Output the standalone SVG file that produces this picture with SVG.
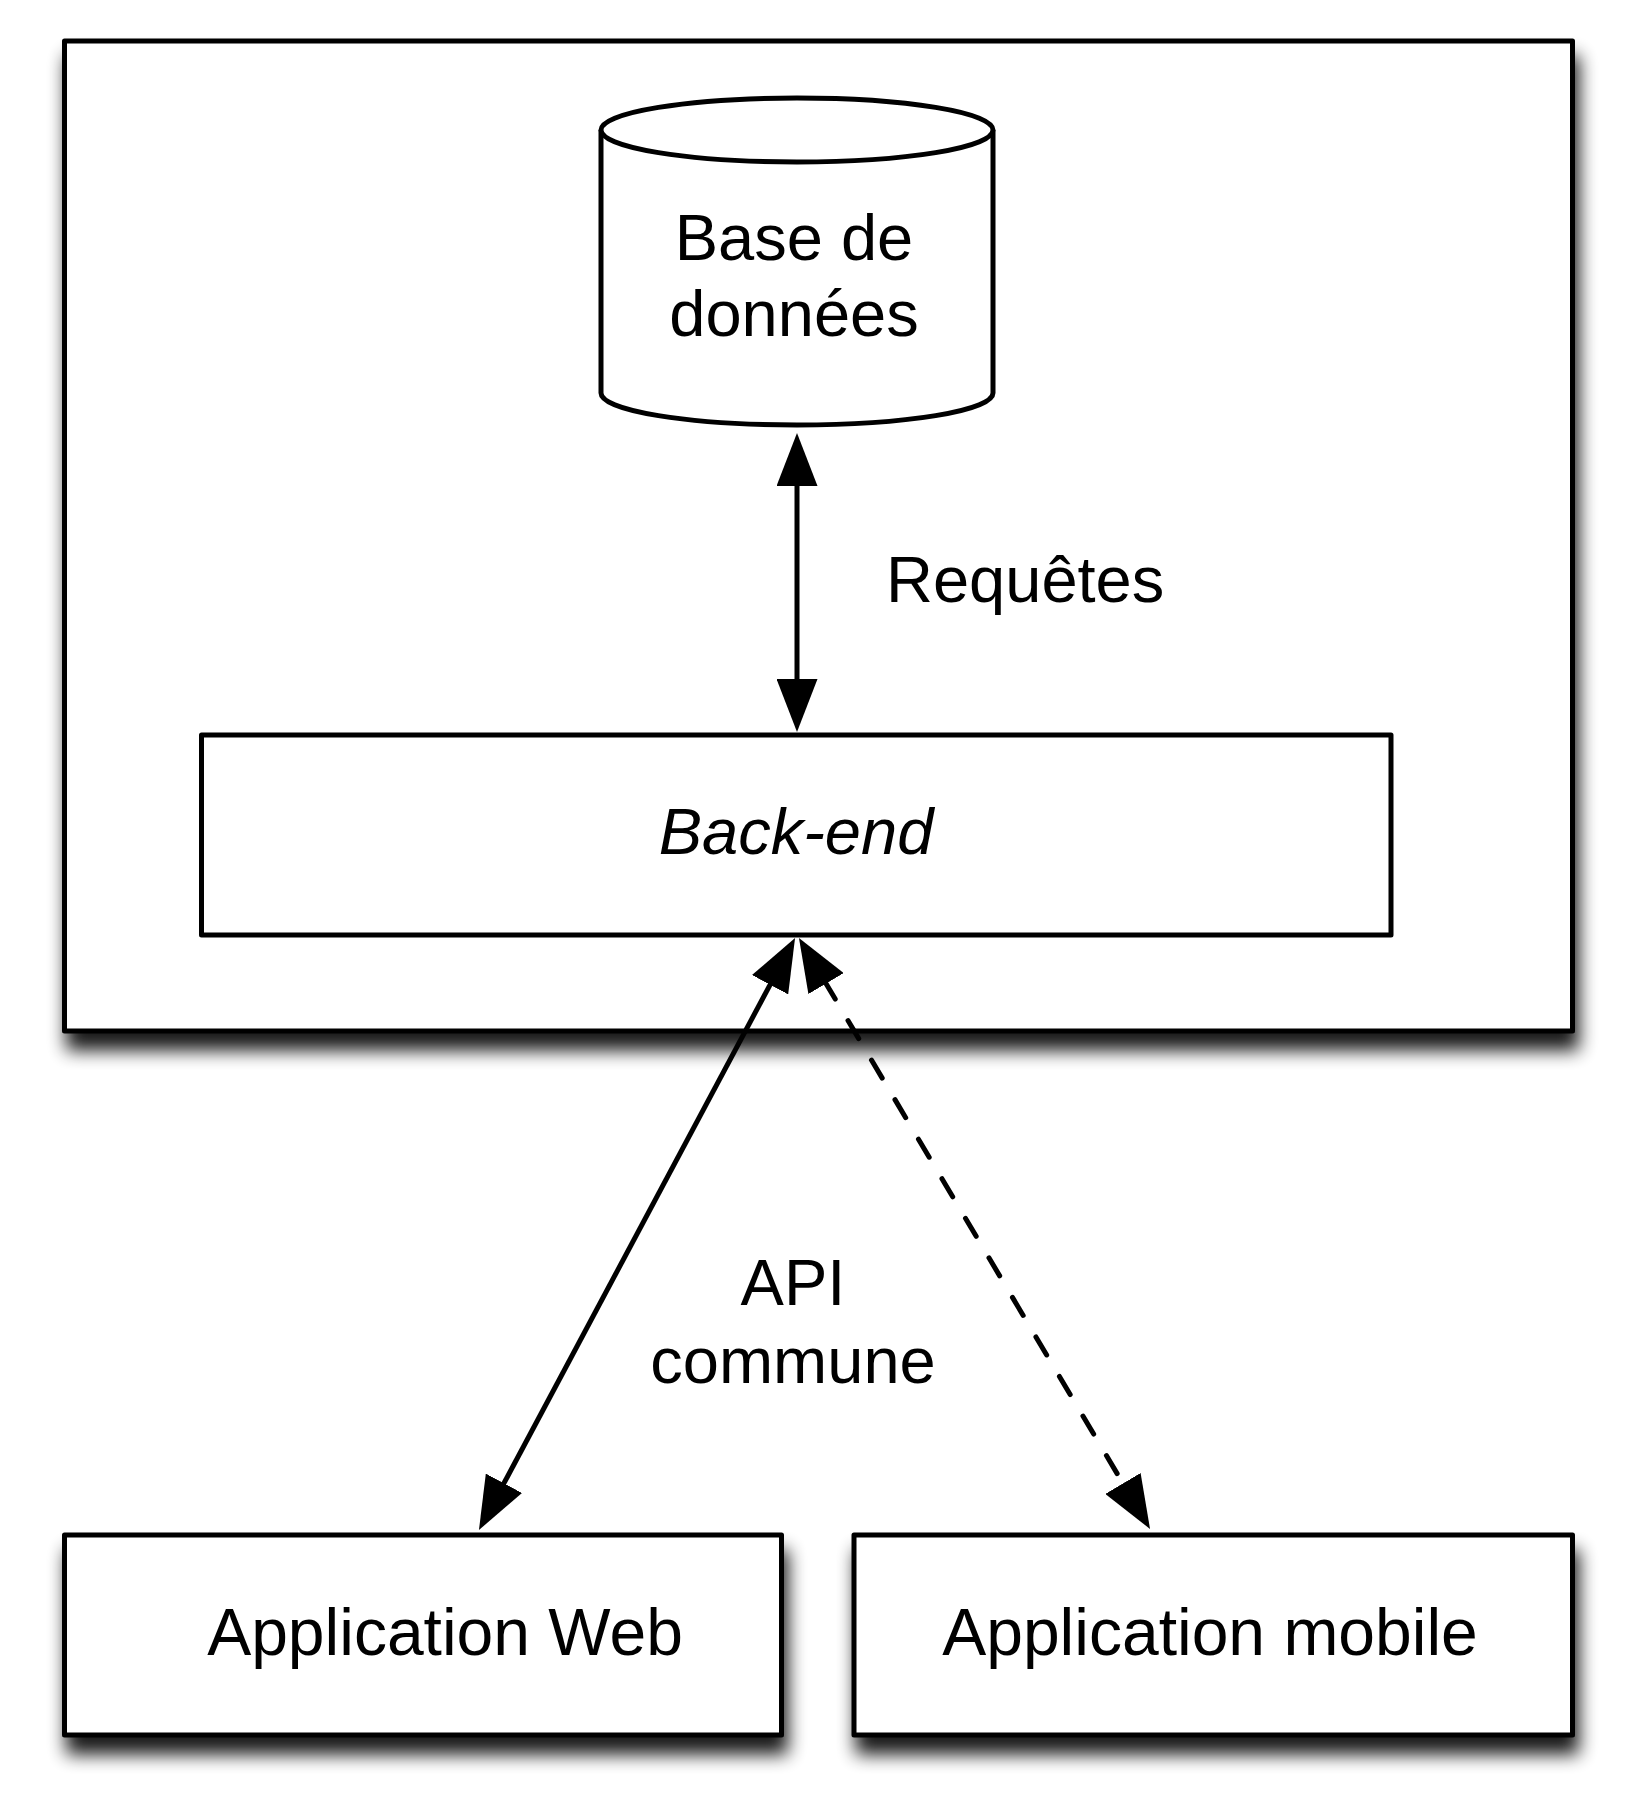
<svg xmlns="http://www.w3.org/2000/svg" width="1633" height="1816" viewBox="0 0 1633 1816">
<style>
.box{fill:#fff;stroke:#000;stroke-width:5;stroke-linejoin:round}
.lbl{font-family:"Liberation Sans",Arial,Helvetica,sans-serif;font-size:65px;fill:#000}
.big{font-size:66px}
.it{font-style:italic}
.conn{fill:none;stroke:#000;stroke-width:5}
.dash{stroke-dasharray:21 25;stroke-linecap:round}
</style>
<defs>
<filter id="shadow" x="-10%" y="-10%" width="125%" height="150%">
<feGaussianBlur in="SourceAlpha" stdDeviation="9"/>
<feOffset dx="4" dy="17" result="b"/>
<feComponentTransfer in="b" result="s"><feFuncA type="linear" slope="0.9"/></feComponentTransfer>
<feMerge><feMergeNode in="s"/><feMergeNode in="SourceGraphic"/></feMerge>
</filter>
<marker id="arrow" viewBox="0 0 53 41" refX="3" refY="20.5" markerWidth="53" markerHeight="41" markerUnits="userSpaceOnUse" orient="auto-start-reverse">
<path d="M0,0 L53,20.5 L0,41 Z" fill="#000"/>
</marker>
</defs>
<g id="server">
<rect class="box" x="64.5" y="41" width="1508" height="990" filter="url(#shadow)"/>
</g>
<g id="database">
<path class="box" d="M601,130 A196,32 0 0,1 993,130 L993,393 A196,32 0 0,1 601,393 Z"/>
<path class="box" d="M601,130 A196,32 0 0,0 993,130" fill="none"/>
<text class="lbl" x="794" y="260" text-anchor="middle">Base de</text>
<text class="lbl" x="794" y="336" text-anchor="middle">données</text>
</g>
<g id="backend">
<rect class="box" x="201.5" y="735" width="1189.5" height="200"/>
<text class="lbl it" x="796" y="854" text-anchor="middle">Back-end</text>
</g>
<g id="appweb">
<rect class="box" x="64.5" y="1535" width="717" height="200" filter="url(#shadow)"/>
<text class="lbl big" x="445" y="1655" text-anchor="middle">Application Web</text>
</g>
<g id="appmobile">
<rect class="box" x="854" y="1535" width="718.5" height="200" filter="url(#shadow)"/>
<text class="lbl big" x="1210" y="1655" text-anchor="middle">Application mobile</text>
</g>
<g id="connectors">
<line class="conn" x1="797" y1="483" x2="797" y2="682" marker-start="url(#arrow)" marker-end="url(#arrow)"/>
<line class="conn" x1="771.5" y1="982.1" x2="502.5" y2="1485.9" marker-start="url(#arrow)" marker-end="url(#arrow)"/>
<line class="conn dash" x1="824.5" y1="981" x2="1124.5" y2="1486" marker-start="url(#arrow)" marker-end="url(#arrow)"/>
<text class="lbl" x="886" y="602">Requêtes</text>
<text class="lbl" x="793" y="1305" text-anchor="middle">API</text>
<text class="lbl" x="793" y="1383" text-anchor="middle">commune</text>
</g>
</svg>
